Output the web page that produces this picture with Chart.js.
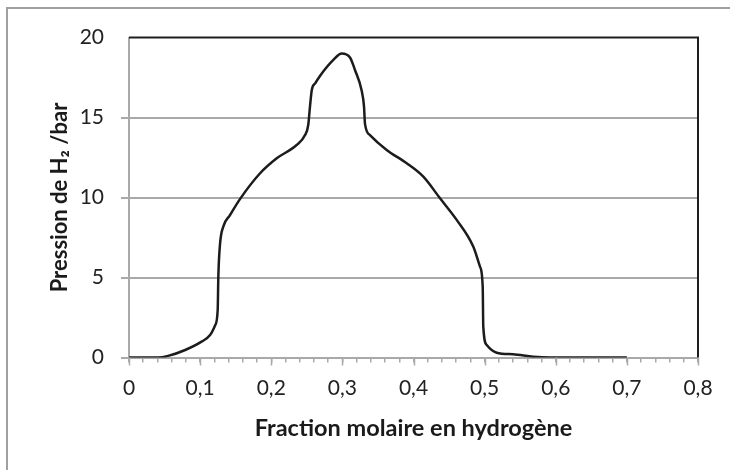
<!DOCTYPE html>
<html>
<head>
<meta charset="utf-8">
<script src="https://cdn.jsdelivr.net/npm/chart.js@4/dist/chart.umd.min.js"></script>
<style>
  html, body { margin: 0; padding: 0; background: #fff; }
  #wrap { width: 730px; height: 470px; }
</style>
</head>
<body>
<div id="wrap"><canvas id="phaseChart" width="730" height="470"></canvas></div>
<script>
// valeurs
const fraction = [0, 0.041, 0.055, 0.079, 0.102, 0.114, 0.121, 0.1247, 0.1256, 0.128, 0.1327, 0.142, 0.156, 0.184,
  0.2077, 0.2357, 0.2475, 0.252, 0.2545, 0.257, 0.262, 0.2685, 0.2873, 0.299, 0.3107, 0.3177, 0.327, 0.3304, 0.3318,
  0.3388, 0.3623, 0.3904, 0.4138, 0.4373, 0.4607, 0.484, 0.4935, 0.4973, 0.4981, 0.503, 0.517, 0.54, 0.5685, 0.592, 0.7];
const pression = [0, 0, 0.1, 0.47, 0.99, 1.4, 2.0, 2.97, 5.05, 7.1, 8.2, 8.9, 9.9, 11.5,
  12.45, 13.28, 13.9, 14.53, 15.7, 16.72, 17.15, 17.6, 18.6, 19.0, 18.75, 17.97, 16.7, 15.7, 14.6,
  13.9, 12.97, 12.14, 11.3, 9.95, 8.6, 6.93, 5.68, 4.43, 1.93, 0.78, 0.3, 0.2, 0.05, 0, 0];

const xTitle = 'Fraction molaire en hydrogène';
const yTitle = 'Pression de H\u2082 /bar';

const FONT = 'Lato, "Open Sans", sans-serif';
const GRID = '#a9a9a9';

// cadre extérieur, bord noir du tracé, grands traits de l'axe x
const framePlugin = {
  id: 'frame',
  afterDraw(chart) {
    const ctx = chart.ctx;
    const a = chart.chartArea;
    ctx.save();
    ctx.strokeStyle = '#a0a0a0';
    ctx.lineWidth = 2;
    ctx.beginPath();
    ctx.moveTo(7, 470);
    ctx.lineTo(7, 8);
    ctx.lineTo(730, 8);
    ctx.stroke();

    ctx.strokeStyle = '#1e1e1e';
    ctx.lineWidth = 2;
    ctx.beginPath();
    ctx.moveTo(a.left, a.top);
    ctx.lineTo(a.right, a.top);
    ctx.lineTo(a.right, a.bottom);
    ctx.stroke();

    // majors a bit longer than minors
    const xs = chart.scales.x;
    ctx.strokeStyle = GRID;
    ctx.lineWidth = 1.5;
    for (let i = 0; i <= 8; i++) {
      const px = Math.round(xs.getPixelForValue(i / 10)) + 0.5;
      ctx.beginPath();
      ctx.moveTo(px, a.bottom);
      ctx.lineTo(px, a.bottom + 8);
      ctx.stroke();
    }
    ctx.restore();
  }
};

new Chart(document.getElementById('phaseChart'), {
  type: 'scatter',
  data: {
    datasets: [{
      data: fraction.map((f, i) => ({ x: f, y: pression[i] })),
      showLine: true,
      borderColor: '#1c1c1c',
      borderWidth: 2.5,
      pointRadius: 0,
      cubicInterpolationMode: 'monotone',
      fill: false
    }]
  },
  options: {
    responsive: false,
    animation: false,
    layout: { padding: { top: 37.5, right: 32, left: 0, bottom: 0 } },
    plugins: {
      legend: { display: false },
      tooltip: { enabled: false }
    },
    scales: {
      x: {
        type: 'linear',
        min: 0,
        max: 0.8,
        afterFit: s => { s.height = 112.5; },
        border: { color: GRID, width: 2 },
        grid: { drawOnChartArea: false, drawTicks: true, tickLength: 5, color: GRID, lineWidth: 1.5 },
        ticks: {
          stepSize: 0.02,
          autoSkip: false,
          maxRotation: 0,
          padding: 13,
          color: '#222',
          font: { family: FONT, size: 21 },
          callback: v => {
            const t = v * 10;
            if (Math.abs(t - Math.round(t)) > 1e-6) return '';
            return Math.round(t) === 0 ? '0' : '0,' + Math.round(t);
          }
        },
        title: {
          display: true,
          text: xTitle,
          color: '#1a1a1a',
          font: { family: FONT, size: 23.5, weight: 'bold' },
          padding: { top: 0, bottom: 27 }
        }
      },
      y: {
        min: 0,
        max: 20,
        afterFit: s => { s.width = 129; },
        border: { color: GRID, width: 2 },
        grid: {
          color: ctx => (ctx.tick && ctx.tick.value === 20) ? 'rgba(0,0,0,0)' : GRID,
          lineWidth: 2,
          tickLength: 8
        },
        ticks: {
          stepSize: 5,
          padding: 17,
          color: '#222',
          font: { family: FONT, size: 21 }
        },
        title: {
          display: true,
          text: yTitle,
          color: '#1a1a1a',
          font: { family: FONT, size: 22, weight: 'bold' },
          padding: { top: 47, bottom: 0 }
        }
      }
    }
  },
  plugins: [framePlugin]
});
</script>
</body>
</html>
